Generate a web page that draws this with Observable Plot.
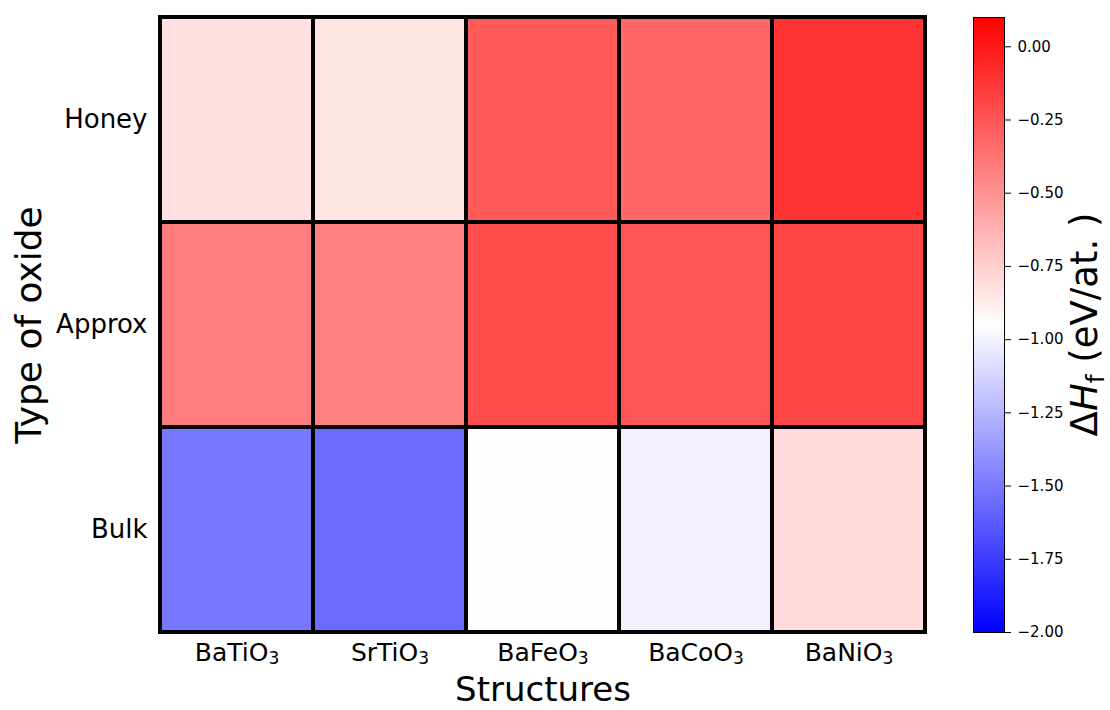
<!DOCTYPE html>
<html>
<head>
<meta charset="utf-8">
<script src="https://cdn.jsdelivr.net/npm/d3@7"></script>
<script src="https://cdn.jsdelivr.net/npm/@observablehq/plot@0.6"></script>
<style>
  html, body { margin: 0; padding: 0; background: white; }
  #wrap { position: relative; width: 1110px; height: 710px; font-family: "DejaVu Sans", sans-serif; }
  #main, #cbar { position: absolute; top: 0; }
  #main { left: 0; }
  #cbar { left: 960px; }
</style>
</head>
<body>
<div id="wrap"><div id="main"></div><div id="cbar"></div></div>
<script>
// ---- data ----
const structures = ["BaTiO₃", "SrTiO₃", "BaFeO₃", "BaCoO₃", "BaNiO₃"];
const types = ["Honey", "Approx", "Bulk"];
const honey  = [-0.82, -0.84, -0.27, -0.33, -0.12];
const approx = [-0.41, -0.43, -0.215, -0.25, -0.19];
const bulk   = [-1.51, -1.56, -0.945, -1.01, -0.80];
const cbarTicks = [0, -0.25, -0.5, -0.75, -1, -1.25, -1.5, -1.75, -2];
const vmin = -2, vmax = 0.1;

const series = {Honey: honey, Approx: approx, Bulk: bulk};
const table = types.flatMap(t => structures.map((s, i) => ({type: t, structure: s, value: series[t][i]})));

const colorOpts = {
  type: "linear",
  domain: [vmin, (vmin + vmax) / 2, vmax],
  range: ["#0000ff", "#ffffff", "#ff0000"],
  interpolate: "rgb"
};

const main = Plot.plot({
  width: 960, height: 710,
  marginLeft: 160, marginRight: 35, marginTop: 17, marginBottom: 78,
  style: {fontFamily: "DejaVu Sans", fontSize: "26px", color: "black", background: "white"},
  x: {domain: structures, padding: 0, tickSize: 0, tickPadding: 11, label: null},
  y: {domain: types, padding: 0, tickSize: 0, tickPadding: 13, label: null},
  color: colorOpts,
  marks: [
    Plot.cell(table, {x: "structure", y: "type", fill: "value", stroke: "black", strokeWidth: 4, inset: 0}),
    Plot.text(["Structures"], {frameAnchor: "bottom", dy: 58, fontSize: 34, fill: "black", lineAnchor: "middle", textAnchor: "middle"}),
    Plot.text(["Type of oxide"], {frameAnchor: "left", dx: -131.5, rotate: -90, fontSize: 36, fill: "black", lineAnchor: "middle", textAnchor: "middle"})
  ]
});
document.getElementById("main").appendChild(main);

// render the subscript of the structure tick labels like mathtext
d3.select(main).selectAll("text").each(function() {
  const t = this.textContent;
  if (this.childElementCount === 0 && t.includes("₃")) {
    const sel = d3.select(this);
    sel.attr("font-size", 25).text(t.replace("₃", ""));
    sel.append("tspan").attr("font-size", 17).attr("dy", 3).text("3");
  }
});

// colorbar
const step = 0.005;
const grad = d3.range(vmin, vmax - 1e-9, step);
const cbar = Plot.plot({
  width: 150, height: 710,
  marginLeft: 13, marginRight: 106, marginTop: 17, marginBottom: 78,
  style: {fontFamily: "DejaVu Sans", fontSize: "15px", color: "black", background: "white"},
  x: {domain: [0, 1], axis: null},
  y: {domain: [vmin, vmax], axis: "right", ticks: cbarTicks, tickFormat: d3.format(".2f"), tickSize: 6, tickPadding: 7, label: null},
  color: colorOpts,
  marks: [
    Plot.rect(grad, {x1: 0, x2: 1, y1: d => d, y2: d => Math.min(d + step * 1.5, vmax), fill: d => d + step / 2, shapeRendering: "crispEdges"}),
    Plot.frame({stroke: "black", strokeWidth: 1})
  ]
});
document.getElementById("cbar").appendChild(cbar);

// colorbar label with italic H and subscript f
const cy = 17 + (710 - 17 - 78) / 2;
const lab = d3.select(cbar).append("text")
  .attr("transform", `translate(137,${cy}) rotate(-90)`)
  .attr("text-anchor", "middle")
  .attr("font-size", 37)
  .attr("font-family", "DejaVu Sans")
  .attr("fill", "black");
lab.append("tspan").text("Δ");
lab.append("tspan").attr("font-style", "italic").text("H");
lab.append("tspan").attr("font-size", 25).attr("dy", 7).text("f");
lab.append("tspan").attr("dy", -7).text(" (eV/at. )");
</script>
</body>
</html>
